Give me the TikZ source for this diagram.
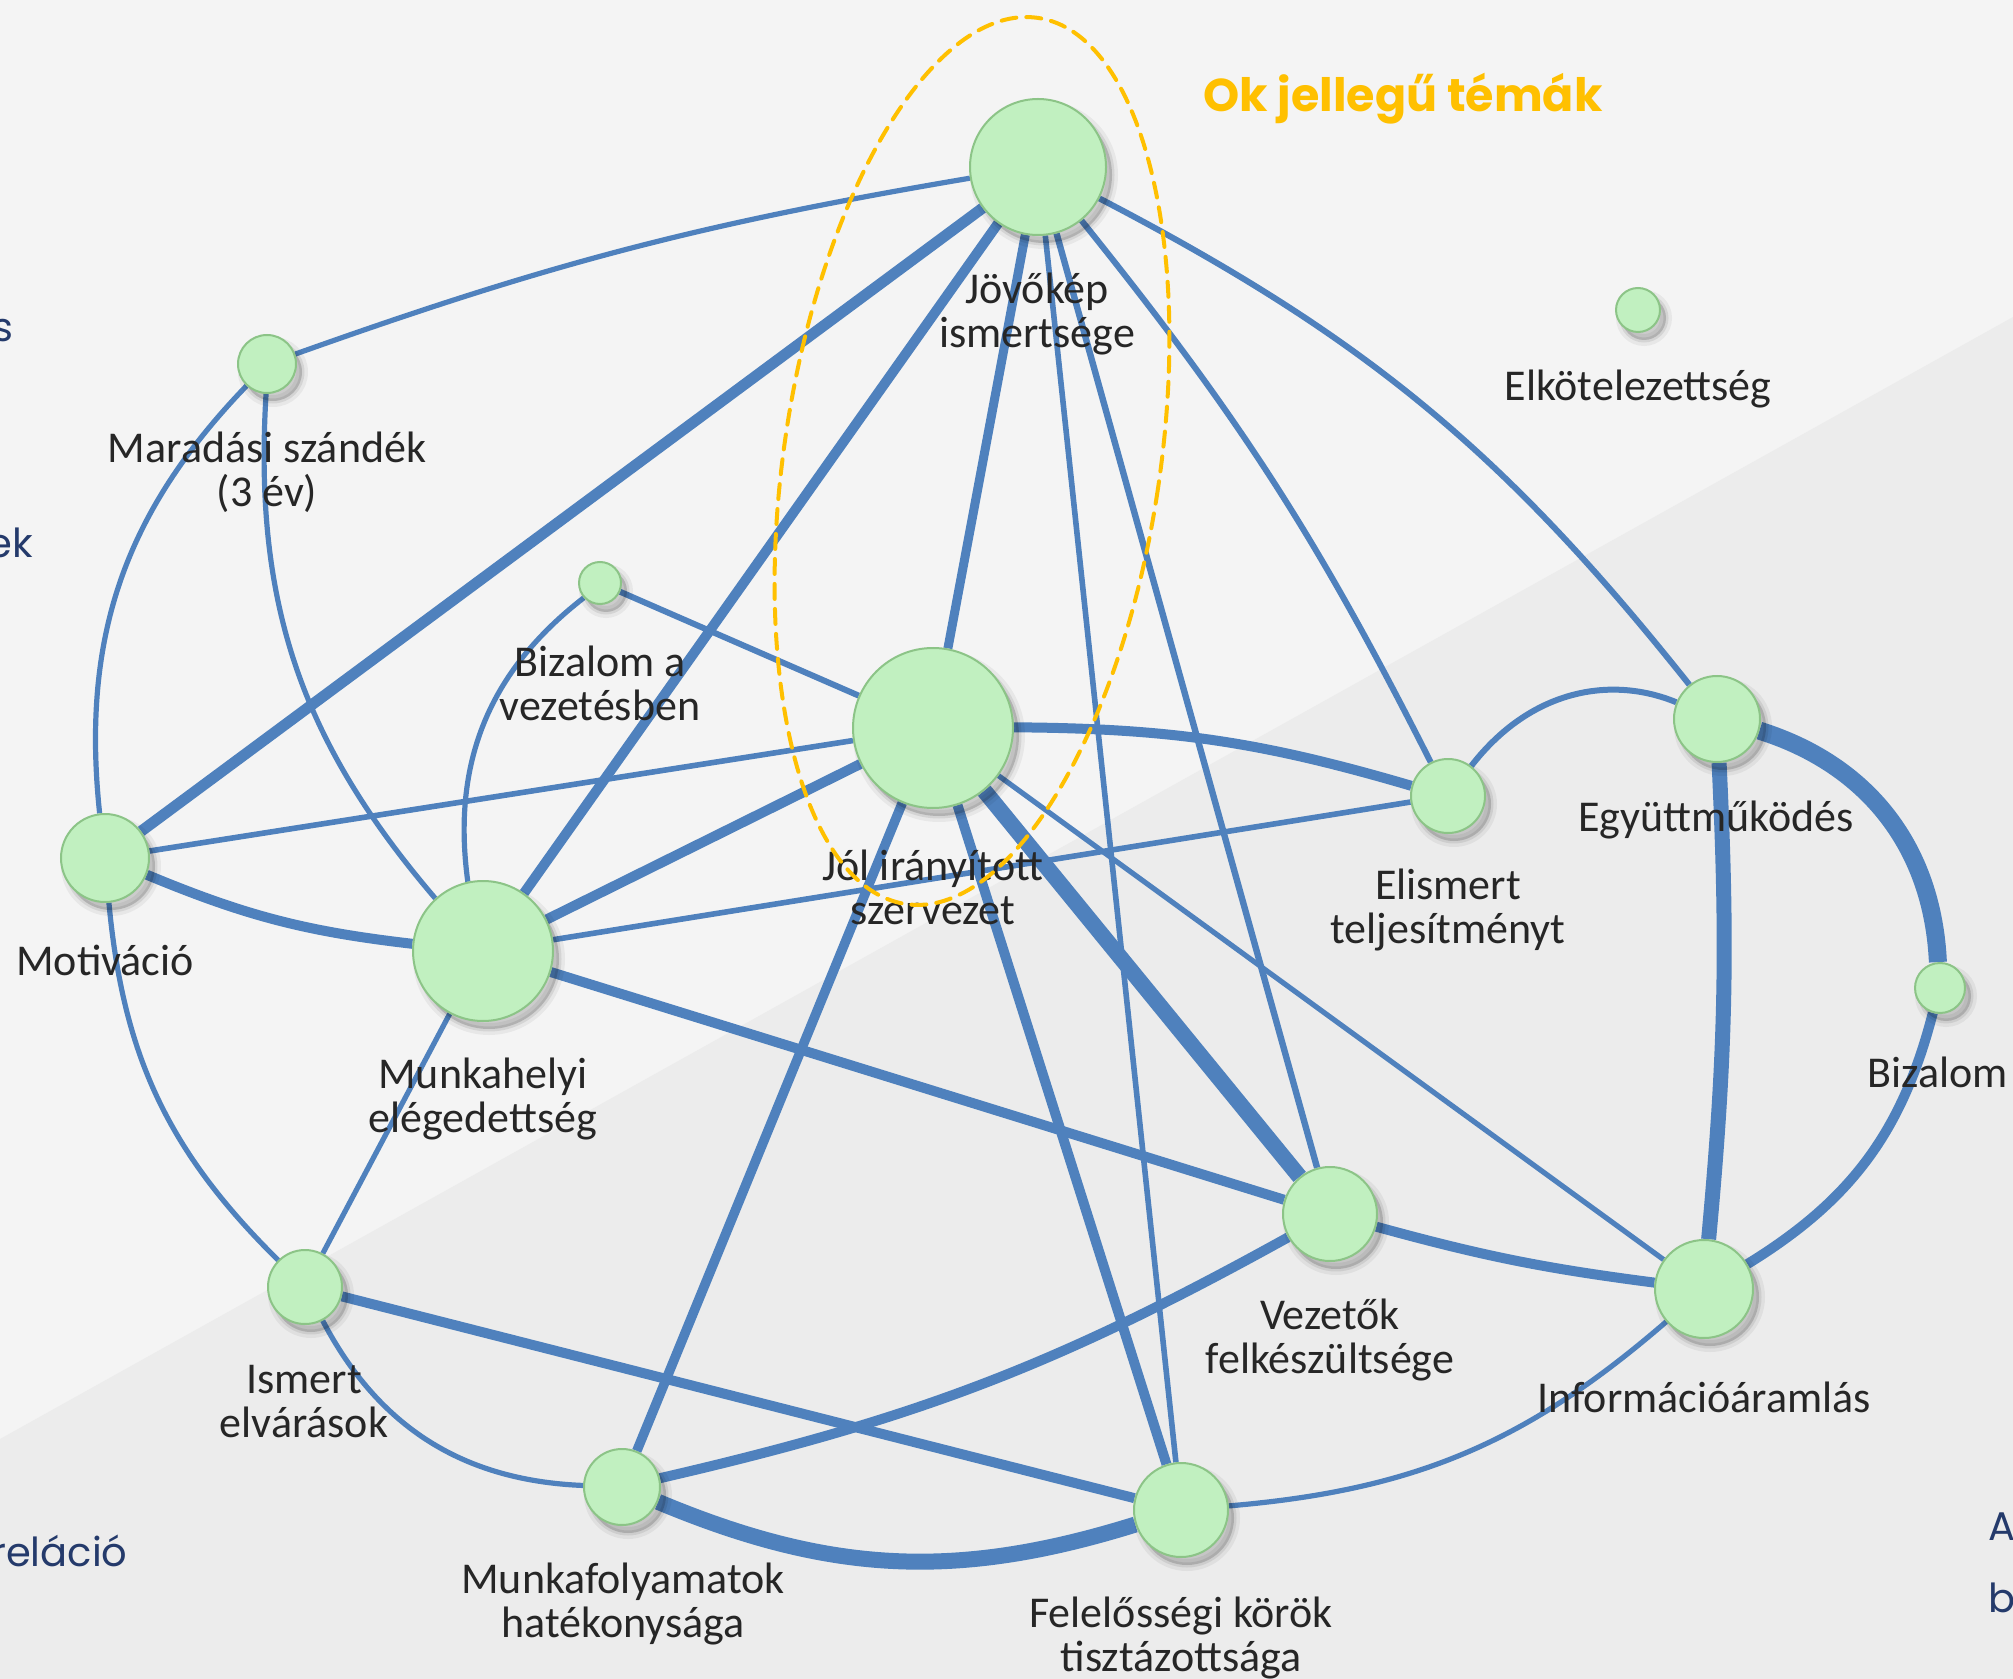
\documentclass[tikz,border=0pt]{standalone}
\usepackage{fontspec}
\setmainfont{Carlito}
\newfontfamily\slidefont{Poppins}
\definecolor{linkblue}{RGB}{79,129,189}
\definecolor{nodefill}{RGB}{193,240,192}
\definecolor{nodeedge}{RGB}{140,196,135}
\definecolor{okgold}{RGB}{255,192,0}
\definecolor{slidenavy}{RGB}{36,58,107}
\definecolor{bglight}{RGB}{244,244,244}
\definecolor{bgdark}{RGB}{236,236,236}
\pgfdeclarelayer{bg}\pgfdeclarelayer{links}
\pgfsetlayers{bg,links,main}
\tikzset{
  softshade/.style={transform canvas={shift={(3pt,-4pt)}}},
  topic/.style={circle,draw=nodeedge,line width=1pt,fill=nodefill,inner sep=0pt,minimum size=#1,
    preaction={draw=black,draw opacity=0.05,line width=6pt,softshade},
    preaction={draw=black,draw opacity=0.08,line width=2.5pt,softshade},
    preaction={fill=black,fill opacity=0.16,softshade}},
  lbl/.style={align=center,text=black!85,font=\fontsize{22}{22}\selectfont,inner sep=0pt},
  link/.style={draw=linkblue,line width=#1},
  slidetxt/.style={text=slidenavy,font=\slidefont\fontsize{20}{24}\selectfont,inner sep=0pt}
}
\begin{document}
\begin{tikzpicture}[x=0.5pt,y=-0.5pt,line cap=round]
\useasboundingbox (0,0) rectangle (2013,1679);
\clip (0,0) rectangle (2013,1679);
% slide background
\begin{pgfonlayer}{bg}
  \fill[bglight] (0,0) rectangle (2013,1679);
  \fill[bgdark] (0,1439) -- (2013,317) -- (2013,1679) -- (0,1679) -- cycle;
\end{pgfonlayer}
% topics
\node[topic=68pt] (jovo) at (1038,167) {};
\node[topic=80pt] (jol) at (933,728) {};
\node[topic=70pt] (munk) at (483,951) {};
\node[topic=44pt] (motiv) at (105,858) {};
\node[topic=29pt] (marad) at (267,364) {};
\node[topic=21pt] (bizv) at (600,583) {};
\node[topic=22pt] (elkot) at (1638,310) {};
\node[topic=43pt] (egyutt) at (1717,719) {};
\node[topic=25pt] (bizalom) at (1940,988) {};
\node[topic=37pt] (elism) at (1448,796) {};
\node[topic=47pt] (vezet) at (1330,1214) {};
\node[topic=49pt] (info) at (1704,1289) {};
\node[topic=47pt] (felel) at (1181,1510) {};
\node[topic=38pt] (munkaf) at (622,1487) {};
\node[topic=37pt] (ismert) at (305,1287) {};
% labels
\node[lbl] (jovo-l) at (1037,314) {Jövőkép\\ismertsége};
\node[lbl] (jol-l) at (933,887) {Jól irányított\\szervezet};
\node[lbl] (munk-l) at (483,1099) {Munkahelyi\\elégedettség};
\node[lbl] (motiv-l) at (105,960) {Motiváció};
\node[lbl] (marad-l) at (267,472) {Maradási szándék\\(3 év)};
\node[lbl] (bizv-l) at (600,683) {Bizalom a\\vezetésben};
\node[lbl] (elkot-l) at (1638,389) {Elkötelezettség};
\node[lbl] (egyutt-l) at (1716,820) {Együttműködés};
\node[lbl] (bizalom-l) at (1938,1072) {Bizalom};
\node[lbl] (elism-l) at (1448,910) {Elismert\\teljesítményt};
\node[lbl] (vezet-l) at (1330,1340) {Vezetők\\felkészültsége};
\node[lbl] (info-l) at (1704,1397) {Információáramlás};
\node[lbl] (felel-l) at (1181,1638) {Felelősségi körök\\tisztázottsága};
\node[lbl] (munkaf-l) at (623,1604) {Munkafolyamatok\\hatékonysága};
\node[lbl] (ismert-l) at (304,1402) {Ismert\\elvárások};
% correlations
\begin{pgfonlayer}{links}
\draw[link=2.6pt] (marad) to[bend left=5] (jovo);
\draw[link=5.5pt] (motiv) -- (jovo);
\draw[link=5pt] (munk) -- (jovo);
\draw[link=4.5pt] (jol) -- (jovo);
\draw[link=2.8pt] (jovo) -- (felel);
\draw[link=3.2pt] (jovo) -- (vezet);
\draw[link=3pt] (jovo) to[bend left=6] (elism);
\draw[link=3pt] (jovo) to[bend left=12] (egyutt);
\draw[link=3pt] (bizv) -- (jol);
\draw[link=2.8pt] (motiv) -- (jol);
\draw[link=5pt] (munk) -- (jol);
\draw[link=5pt] (jol) to[bend left=8] (elism);
\draw[link=2.6pt] (jol) -- (info);
\draw[link=8pt] (jol) -- (vezet);
\draw[link=5pt] (jol) -- (felel);
\draw[link=4.8pt] (jol) -- (munkaf);
\draw[link=5pt] (motiv) to[bend right=8] (munk);
\draw[link=2.6pt] (marad) to[bend right=22] (munk);
\draw[link=2.6pt] (bizv) to[bend right=30] (munk);
\draw[link=2.8pt] (munk) -- (elism);
\draw[link=5pt] (munk) -- (vezet);
\draw[link=2.6pt] (munk) -- (ismert);
\draw[link=2.6pt] (motiv) to[bend left=25] (marad);
\draw[link=2.6pt] (motiv) to[bend right=20] (ismert);
\draw[link=5pt] (ismert) -- (felel);
\draw[link=2.6pt] (ismert) to[bend right=30] (munkaf);
\draw[link=5pt] (munkaf) to[bend right=8] (vezet);
\draw[link=8pt] (munkaf) to[bend right=20] (felel);
\draw[link=2.6pt] (felel) to[bend right=18] (info);
\draw[link=5pt] (vezet) to[bend right=4] (info);
\draw[link=7.5pt] (info) to[bend right=4] (egyutt);
\draw[link=5pt] (info) to[bend right=22] (bizalom);
\draw[link=9pt] (egyutt) to[bend left=35] (bizalom);
\draw[link=3pt] (elism) .. controls (1530,690) and (1610,675) .. (egyutt);
\end{pgfonlayer}
% cause-type group
\draw[okgold,line width=2pt,dash pattern=on 7.5pt off 5pt,rotate around={-8.5:(972,461)}]
  (972,461) ellipse (188 and 448);
\node[text=okgold,font=\slidefont\bfseries\fontsize{23}{28}\selectfont,inner sep=0pt] (ok) at (1403,99) {Ok jellegű témák};
% slide text cut by the frame
\node[slidetxt,anchor=base east] (cut-s) at (14,342) {s};
\node[slidetxt,anchor=base east] (cut-ek) at (33,558) {ek};
\node[slidetxt,anchor=base east] (cut-rel) at (128,1566) {reláció};
\node[slidetxt,anchor=base west] (cut-a) at (1988,1540) {A};
\node[slidetxt,anchor=base west] (cut-b) at (1988,1612) {b};
\end{tikzpicture}
\end{document}
